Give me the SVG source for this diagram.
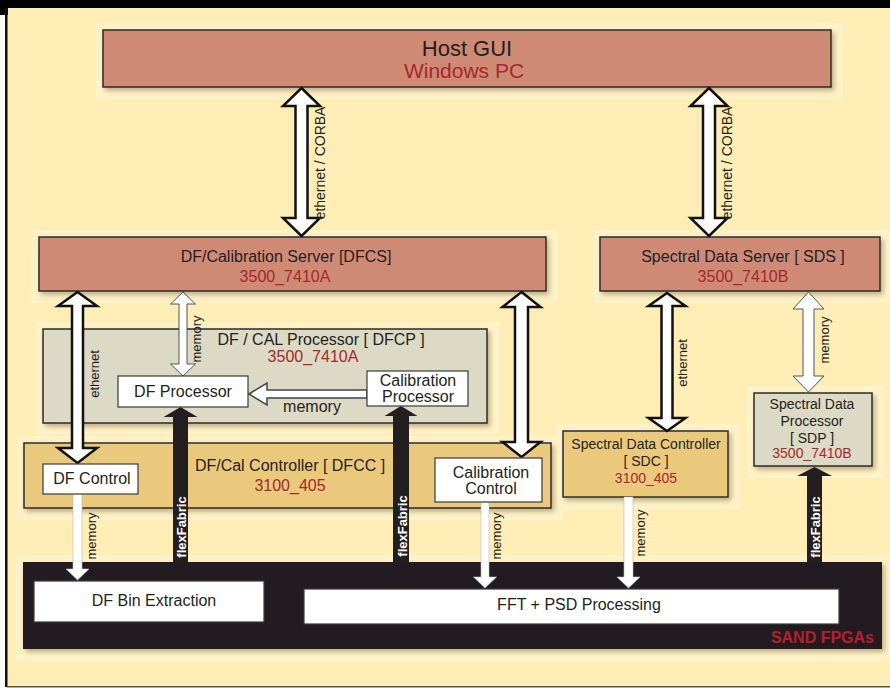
<svg xmlns="http://www.w3.org/2000/svg" width="890" height="688" viewBox="0 0 890 688">
<defs>
<filter id="sh" x="-10%" y="-10%" width="130%" height="140%">
<feDropShadow dx="2.5" dy="3" stdDeviation="2.5" flood-color="#6b5a2a" flood-opacity="0.45"/>
</filter>
<style>
.box{stroke:#2b2b2b;stroke-width:1.5}
.salmon{fill:#CF8A76}
.gray{fill:#DCD9C4}
.gold{fill:#EAC97D}
.wbox{fill:#ffffff;stroke:#3a3a3a;stroke-width:1.2}
.halo{fill:#FFF2C8}
.t{font-family:"Liberation Sans",Arial,sans-serif;fill:#231F20;text-anchor:middle}
.red{fill:#A6282C}
.f21{font-size:21px}
.f16{font-size:16px}
.f14{font-size:14px}
.lbl{font-family:"Liberation Sans",Arial,sans-serif;font-size:13px;fill:#231F20;text-anchor:middle}
.lbl14{font-size:14px}
.ff{font-family:"Liberation Sans",Arial,sans-serif;font-size:13px;font-weight:bold;fill:#ffffff;text-anchor:middle}
.big{fill:#ffffff;stroke:#111;stroke-width:2.5;stroke-linejoin:miter}
.thin{fill:#ffffff;stroke:#555;stroke-width:1}
.mid{fill:#ffffff;stroke:#444;stroke-width:1.5}
.blk{fill:#231F20}
.wdn{fill:#ffffff;stroke:#b8b8b8;stroke-width:0.6}
</style>
</defs>

<!-- background -->
<rect x="0" y="0" width="890" height="688" fill="#ffffff"/>
<rect x="7" y="8" width="883" height="679" fill="#FEEDB5"/>
<rect x="0" y="0" width="890" height="8" fill="#000"/>
<rect x="0" y="0" width="8" height="15" fill="#000"/>
<rect x="5" y="8" width="2.5" height="679" fill="#111"/>
<rect x="7" y="686" width="883" height="1.5" fill="#5a5540"/>

<!-- halos -->
<g id="halos">
<rect class="halo" x="96" y="23" width="747" height="76"/>
<rect class="halo" x="31" y="230" width="527" height="73"/>
<rect class="halo" x="593" y="230" width="297" height="73"/>
<rect class="halo" x="36" y="322" width="463" height="112"/>
<rect class="halo" x="17" y="436" width="546" height="84"/>
<rect class="halo" x="556" y="424" width="184" height="85"/>
<rect class="halo" x="747" y="386" width="137" height="92"/>
<rect class="halo" x="16" y="555" width="878" height="106"/>
</g>

<g id="host-gui">
<rect class="box salmon" filter="url(#sh)" x="103" y="30" width="728" height="57"/>
<text class="t" font-size="22" x="467" y="56">Host GUI</text>
<text class="t f21 red" x="464" y="78">Windows PC</text>
</g>

<g id="dfcs">
<rect class="box salmon" filter="url(#sh)" x="39" y="237" width="507" height="54"/>
<text class="t f16" x="286" y="262">DF/Calibration Server [DFCS]</text>
<text class="t f16 red" x="285" y="282">3500_7410A</text>
</g>

<g id="sds">
<rect class="box salmon" filter="url(#sh)" x="600" y="237" width="280" height="54"/>
<text class="t f16" x="743" y="262">Spectral Data Server [ SDS ]</text>
<text class="t f16 red" x="743" y="282">3500_7410B</text>
</g>

<g id="dfcp">
<rect class="box gray" filter="url(#sh)" x="43" y="329" width="444" height="94"/>
<text class="t f16" x="321" y="345">DF / CAL Processor [ DFCP ]</text>
<text class="t f16 red" x="313" y="362">3500_7410A</text>
</g>

<g id="dfcc">
<rect class="box gold" filter="url(#sh)" x="24" y="443" width="527" height="65"/>
<text class="t f16" x="290" y="471">DF/Cal Controller [ DFCC ]</text>
<text class="t f16 red" x="290" y="491">3100_405</text>
</g>

<g id="sdc">
<rect class="box gold" filter="url(#sh)" x="563" y="431" width="165" height="66"/>
<text class="t f14" x="646" y="449">Spectral Data Controller</text>
<text class="t f14" x="646" y="466">[ SDC ]</text>
<text class="t f14 red" x="646" y="483">3100_405</text>
</g>

<g id="sdp">
<rect class="box gray" filter="url(#sh)" x="754" y="393" width="118" height="73"/>
<text class="t f14" x="812" y="409">Spectral Data</text>
<text class="t f14" x="812" y="426">Processor</text>
<text class="t f14" x="812" y="443">[ SDP ]</text>
<text class="t f14 red" x="812" y="458">3500_7410B</text>
</g>

<g id="sand-fpgas">
<rect class="blk" filter="url(#sh)" x="23" y="562" width="859" height="87"/>
<text x="874" y="643" font-family="Liberation Sans,Arial,sans-serif" font-size="16" font-weight="bold" fill="#B5202A" text-anchor="end">SAND FPGAs</text>
</g>

<g id="df-bin-extraction">
<rect class="wbox" x="34" y="581" width="230" height="41"/>
<text class="t f16" x="154" y="606">DF Bin Extraction</text>
</g>

<g id="fft-psd">
<rect class="wbox" x="304" y="589" width="535" height="35"/>
<text class="t f16" x="579" y="610">FFT + PSD Processing</text>
</g>

<g id="connectors">
<!-- Host <-> DFCS -->
<path class="big" d="M301.5,88 L320,106 L307.5,106 L307.5,218 L320,218 L301.5,236 L283,218 L295.5,218 L295.5,106 L283,106 Z"/>
<text class="lbl lbl14" transform="translate(325,163) rotate(-90)">ethernet / CORBA</text>
<!-- Host <-> SDS -->
<path class="big" d="M709,88 L727.5,106 L715,106 L715,218 L727.5,218 L709,236 L690.5,218 L703,218 L703,106 L690.5,106 Z"/>
<text class="lbl lbl14" transform="translate(732,163) rotate(-90)">ethernet / CORBA</text>
<!-- DFCS <-> DF Control ethernet -->
<path class="big" d="M77.5,292 L97,306 L83,306 L83,448 L97,448 L77.5,463 L58,448 L72,448 L72,306 L58,306 Z"/>
<text class="lbl" transform="translate(99,374) rotate(-90)">ethernet</text>
<!-- DFCS <-> DFCP memory -->
<path class="thin" d="M183,292 L195.5,304 L187,304 L187,364 L195.5,364 L183,376 L170.5,364 L179,364 L179,304 L170.5,304 Z"/>
<text class="lbl" transform="translate(201,339) rotate(-90)">memory</text>
<!-- DFCS <-> Calibration Control -->
<path class="big" d="M521.5,292 L540.5,307 L528,307 L528,442 L540.5,442 L521.5,457 L502.5,442 L515,442 L515,307 L502.5,307 Z"/>
<!-- SDS <-> SDC ethernet -->
<path class="big" d="M667,293 L685.5,306 L672.5,306 L672.5,418 L685.5,418 L667,431 L648.5,418 L661.5,418 L661.5,306 L648.5,306 Z"/>
<text class="lbl" transform="translate(687,363) rotate(-90)">ethernet</text>
<!-- SDS <-> SDP memory -->
<path class="thin" d="M808.5,292 L824,309 L814,309 L814,376 L824,376 L808.5,392 L793,376 L803,376 L803,309 L793,309 Z"/>
<text class="lbl" transform="translate(829,340) rotate(-90)">memory</text>
<!-- Calibration Processor -> DF Processor memory -->
<path class="mid" d="M249,394 L267,383 L267,390 L367,390 L367,398 L267,398 L267,405 Z"/>
<text class="t f16" x="312" y="412">memory</text>
<!-- flexFabric arrows -->
<path class="blk" d="M180.5,407 L197.5,417 L188,417 L188,563 L173,563 L173,417 L163.5,417 Z"/>
<text class="ff" transform="translate(186,527) rotate(-90)">flexFabric</text>
<path class="blk" d="M401,406 L417.5,416 L409,416 L409,563 L393,563 L393,416 L384.5,416 Z"/>
<text class="ff" transform="translate(406.5,526) rotate(-90)">flexFabric</text>
<path class="blk" d="M814.5,467 L832,476 L822,476 L822,563 L807,563 L807,476 L797,476 Z"/>
<text class="ff" transform="translate(820,527) rotate(-90)">flexFabric</text>
<!-- memory down arrows -->
<path class="wdn" d="M73,494 L82,494 L82,569 L89,569 L77.5,580 L66,569 L73,569 Z"/>
<text class="lbl" transform="translate(96,536) rotate(-90)">memory</text>
<path class="wdn" d="M481,502 L489,502 L489,577 L496.5,577 L485,588 L473.5,577 L481,577 Z"/>
<text class="lbl" transform="translate(501,536) rotate(-90)">memory</text>
<path class="wdn" d="M624,497 L633,497 L633,577 L640,577 L628.5,588 L617,577 L624,577 Z"/>
<text class="lbl" transform="translate(645,533) rotate(-90)">memory</text>
</g>

<g id="df-processor">
<rect class="wbox" x="118" y="376" width="130" height="31"/>
<text class="t f16" x="183" y="397">DF Processor</text>
</g>

<g id="calibration-processor">
<rect class="wbox" x="367" y="371" width="101" height="35"/>
<text class="t f16" x="418" y="386">Calibration</text>
<text class="t f16" x="418" y="402">Processor</text>
</g>

<g id="df-control">
<rect class="wbox" x="43" y="464" width="95" height="30"/>
<text class="t f16" x="92" y="484">DF Control</text>
</g>

<g id="calibration-control">
<rect class="wbox" x="435" y="458" width="107" height="44"/>
<text class="t f16" x="491" y="478">Calibration</text>
<text class="t f16" x="491" y="494">Control</text>
</g>
</svg>
